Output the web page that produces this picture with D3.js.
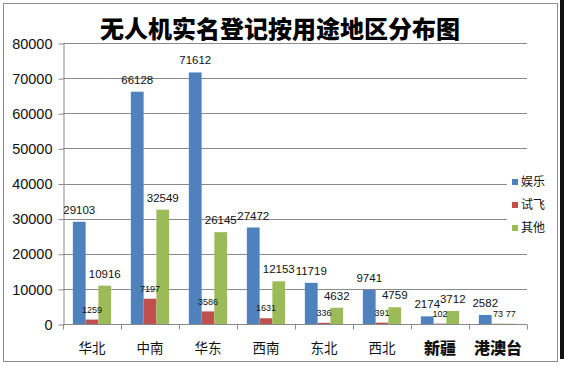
<!DOCTYPE html>
<html>
<head>
    <meta charset="utf-8">
    <style>
        body { margin: 0; background: #fff; }
        svg text { font-family: "Noto Sans CJK SC", "Liberation Sans", sans-serif; }
        .num { font-family: "Liberation Sans", Arial, sans-serif; }
    </style>
    <script src="https://d3js.org/d3.v7.min.js"></script>
</head>
<body>
<svg width="564" height="367"></svg>
<script>
    // chart data
    var regions = ["华北", "中南", "华东", "西南", "东北", "西北", "新疆", "港澳台"];
    var seriesNames = ["娱乐", "试飞", "其他"];
    var yule   = [29103, 66128, 71612, 27472, 11719, 9741, 2174, 2582];
    var shifei = [1259, 7197, 3586, 1631, 336, 391, 102, 73];
    var qita   = [10916, 32549, 26145, 12153, 4632, 4759, 3712, 77];
    var yTicks = [0, 10000, 20000, 30000, 40000, 50000, 60000, 70000, 80000];
    var boldRegions = ["新疆", "港澳台"];

    var series = [yule, shifei, qita];
    var colors = ["#4f81bd", "#c0504d", "#9bbb59"];

    var svg = d3.select("svg");

    // outer frame
    svg.append("rect").attr("x", 3.5).attr("y", 3.5).attr("width", 554).attr("height", 358)
       .attr("fill", "#fff").attr("stroke", "#8c8c8c");
    svg.append("rect").attr("x", 560).attr("y", 0).attr("width", 4).attr("height", 359).attr("fill", "#111");

    var plotL = 63, plotR = 527, plotT = 43, plotB = 324;

    var y = d3.scaleLinear().domain([0, 80000]).range([plotB, plotT]);
    var x0 = d3.scaleBand().domain(regions).range([plotL, plotR]).paddingInner(0.34).paddingOuter(0.17);
    var x1 = d3.scaleBand().domain(d3.range(seriesNames.length)).range([0, x0.bandwidth()]);

    // gridlines
    svg.append("g").selectAll("line").data(yTicks.slice(1)).enter().append("line")
       .attr("x1", plotL).attr("x2", plotR)
       .attr("y1", function(d) { return Math.round(y(d)) + 0.5; })
       .attr("y2", function(d) { return Math.round(y(d)) + 0.5; })
       .attr("stroke", "#8a8a8a").attr("stroke-width", 1);

    // y axis
    var yAxis = d3.axisLeft(y).tickValues(yTicks).tickFormat(d3.format("d"))
                  .tickSize(5).tickSizeOuter(0).tickPadding(6);
    var gy = svg.append("g").attr("transform", "translate(" + (plotL + 0.5) + ",0.5)").call(yAxis);
    gy.select(".domain").attr("stroke", "#8a8a8a");
    gy.selectAll(".tick line").attr("stroke", "#8a8a8a");
    gy.selectAll("text").attr("class", "num").style("font-size", "14.5px").attr("fill", "#111");

    // x axis with ticks on category boundaries
    var gx = svg.append("g").attr("transform", "translate(0," + (plotB + 0.5) + ")");
    gx.append("line").attr("x1", plotL).attr("x2", plotR).attr("stroke", "#8a8a8a");
    var bounds = regions.map(function(r) { return x0(r) - x0.step() * x0.paddingInner() / 2; });
    bounds.push(plotR);
    gx.selectAll(".tk").data(bounds).enter().append("line")
      .attr("x1", function(d) { return Math.round(d) + 0.5; })
      .attr("x2", function(d) { return Math.round(d) + 0.5; })
      .attr("y1", 0).attr("y2", 5).attr("stroke", "#8a8a8a");
    gx.selectAll(".lab").data(regions).enter().append("text")
      .attr("x", function(d) { return x0(d) + x0.bandwidth() / 2; })
      .attr("y", 24)
      .attr("dy", "0.35em")
      .attr("text-anchor", "middle")
      .attr("fill", "#111")
      .style("font-size", function(d) { return boldRegions.indexOf(d) >= 0 ? "16px" : "13.5px"; })
      .style("font-weight", function(d) { return boldRegions.indexOf(d) >= 0 ? "900" : "normal"; })
      .text(function(d) { return d; });

    // bars
    var groups = svg.append("g").selectAll("g").data(regions).enter().append("g")
       .attr("transform", function(d) { return "translate(" + x0(d) + ",0)"; });

    groups.selectAll("rect").data(function(d, i) {
        return series.map(function(s, k) { return { k: k, v: s[i] }; });
    }).enter().append("rect")
       .attr("x", function(d) { return x1(d.k); })
       .attr("width", x1.bandwidth())
       .attr("y", function(d) { return y(d.v); })
       .attr("height", function(d) { return plotB - y(d.v); })
       .attr("fill", function(d) { return colors[d.k]; });

    // data labels (small ones sit a bit lower, like the original)
    groups.selectAll("text").data(function(d, i) {
        return series.map(function(s, k) { return { k: k, v: s[i] }; });
    }).enter().append("text")
       .attr("class", "num")
       .attr("x", function(d) { return x1(d.k) + x1.bandwidth() / 2; })
       .attr("y", function(d) { return y(d.v) - ((d.k == 1 || d.v < 100) ? 10 : 12); })
       .attr("dy", "0.35em")
       .attr("text-anchor", "middle")
       .attr("fill", "#111")
       .style("font-size", function(d) { return (d.k == 1 || d.v < 100) ? "9px" : "11.5px"; })
       .text(function(d) { return d.v; });

    // legend
    var lg = svg.append("g").attr("transform", "translate(507,170)");
    lg.append("rect").attr("x", 0).attr("y", 0).attr("width", 44).attr("height", 70).attr("fill", "#fff");
    seriesNames.forEach(function(name, k) {
        lg.append("rect").attr("x", 5).attr("y", 9 + k * 23).attr("width", 6).attr("height", 6).attr("fill", colors[k]);
        lg.append("text").attr("x", 14).attr("y", 12 + k * 23).attr("dy", "0.35em")
          .style("font-size", "12px").attr("fill", "#111").text(name);
    });

    // title
    svg.append("text").attr("x", 280).attr("y", 30).attr("dy", "0.35em")
       .attr("text-anchor", "middle")
       .style("font-size", "24px").style("font-weight", "900").attr("fill", "#000")
       .text("无人机实名登记按用途地区分布图");
</script>
</body>
</html>
